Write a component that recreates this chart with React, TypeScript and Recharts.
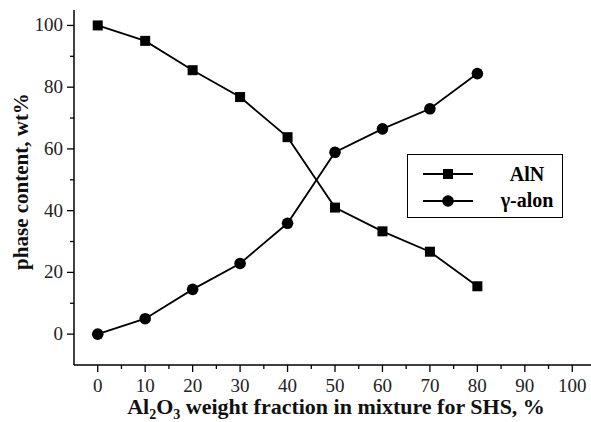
import { Label, Legend, Line, LineChart, XAxis, YAxis } from "recharts";

const fractions = [0, 10, 20, 30, 40, 50, 60, 70, 80];
const alnValues = [100, 95, 85.5, 76.8, 63.8, 41, 33.3, 26.7, 15.5];
const alonValues = [0, 5, 14.5, 22.9, 35.9, 58.9, 66.5, 73, 84.4];

const xTicks = [0, 5, 10, 15, 20, 25, 30, 35, 40, 45, 50, 55, 60, 65, 70, 75, 80, 85, 90, 95, 100];
const yTicks = [0, 10, 20, 30, 40, 50, 60, 70, 80, 90, 100];

const data = fractions.map((f, i) => ({ f, aln: alnValues[i], alon: alonValues[i] }));

const serif = { fontFamily: '"Liberation Serif", "DejaVu Serif", serif' };

function XTick(props: any) {
  const { x, y, payload } = props;
  const major = payload.value % 10 === 0;
  return (
    <g>
      <line x1={x} x2={x} y1={y} y2={y + (major ? 7 : 4)} stroke="#000" strokeWidth={1.3} />
      {major && (
        <text x={x} y={y + 27} textAnchor="middle" fontSize={19} style={serif} fill="#222">
          {payload.value}
        </text>
      )}
    </g>
  );
}

function YTick(props: any) {
  const { x, y, payload } = props;
  const major = payload.value % 20 === 0;
  return (
    <g>
      <line x1={x} x2={x - (major ? 7 : 4)} y1={y} y2={y} stroke="#000" strokeWidth={1.3} />
      {major && (
        <text x={x - 11} y={y + 6} textAnchor="end" fontSize={19} style={serif} fill="#222">
          {payload.value}
        </text>
      )}
    </g>
  );
}

function SquareDot(props: any) {
  const { cx, cy } = props;
  return <rect x={cx - 5} y={cy - 5} width={10} height={10} fill="#000" />;
}

function CircleDot(props: any) {
  const { cx, cy } = props;
  return <circle cx={cx} cy={cy} r={5.8} fill="#000" />;
}

function LegendBox() {
  return (
    <svg width={156} height={64} style={{ display: "block", border: "1.3px solid #000", boxSizing: "border-box" }}>
      <line x1={15} x2={65} y1={19} y2={19} stroke="#000" strokeWidth={1.8} />
      <rect x={35} y={14} width={10} height={10} fill="#000" />
      <text x={119} y={26} textAnchor="middle" fontSize={20} fontWeight="bold" style={serif}>AlN</text>
      <line x1={15} x2={65} y1={46} y2={46} stroke="#000" strokeWidth={1.8} />
      <circle cx={40} cy={46} r={5.8} fill="#000" />
      <text x={119} y={52} textAnchor="middle" fontSize={20} fontWeight="bold" style={serif}>γ-alon</text>
    </svg>
  );
}

function XTitle(props: any) {
  const { viewBox } = props;
  const cx = viewBox.x + 262;
  return (
    <text x={cx} y={viewBox.y + 49} textAnchor="middle" fontSize={22} fontWeight="bold" style={serif} fill="#111">
      Al<tspan dy={5} fontSize={14}>2</tspan>
      <tspan dy={-5}>O</tspan>
      <tspan dy={5} fontSize={14}>3</tspan>
      <tspan dy={-5}> weight fraction in mixture for SHS, %</tspan>
    </text>
  );
}

function YTitle(props: any) {
  const { viewBox } = props;
  const cy = viewBox.y + viewBox.height / 2 - 6;
  return (
    <text
      x={28}
      y={cy}
      transform={`rotate(-90, 28, ${cy})`}
      textAnchor="middle"
      fontSize={21}
      fontWeight="bold"
      style={serif}
      fill="#111"
    >
      phase content, wt%
    </text>
  );
}

export default function App() {
  return (
    <div style={{ position: "absolute", left: 0, top: 0, width: 591, height: 422, overflow: "hidden", background: "#fff" }}>
      <LineChart width={600} height={422} data={data} margin={{ top: 10, right: 4, bottom: 17, left: 0 }}>
        <XAxis
          dataKey="f"
          type="number"
          domain={[-5, 105]}
          ticks={xTicks}
          interval={0}
          tick={<XTick />}
          tickLine={false}
          tickSize={0}
          tickMargin={0}
          height={40}
          axisLine={{ stroke: "#000", strokeWidth: 1.5 }}
        >
          <Label content={<XTitle />} />
        </XAxis>
        <XAxis
          xAxisId="top"
          orientation="top"
          dataKey="f"
          type="number"
          domain={[-5, 105]}
          tick={false}
          tickLine={false}
          height={0}
          axisLine={{ stroke: "#000", strokeWidth: 1.5 }}
        />
        <YAxis
          type="number"
          domain={[-10, 105]}
          ticks={yTicks}
          interval={0}
          tick={<YTick />}
          tickLine={false}
          tickSize={0}
          tickMargin={0}
          width={74}
          axisLine={{ stroke: "#000", strokeWidth: 1.5 }}
        >
          <Label content={<YTitle />} />
        </YAxis>
        <Legend
          layout="horizontal"
          verticalAlign="middle"
          align="center"
          content={<LegendBox />}
          wrapperStyle={{ position: "absolute", left: 407, top: 154, width: 156, height: 64 }}
        />
        <Line
          dataKey="aln"
          name="AlN"
          stroke="#000"
          strokeWidth={1.8}
          dot={<SquareDot />}
          isAnimationActive={false}
        />
        <Line
          dataKey="alon"
          name="γ-alon"
          stroke="#000"
          strokeWidth={1.8}
          dot={<CircleDot />}
          isAnimationActive={false}
        />
      </LineChart>
    </div>
  );
}
